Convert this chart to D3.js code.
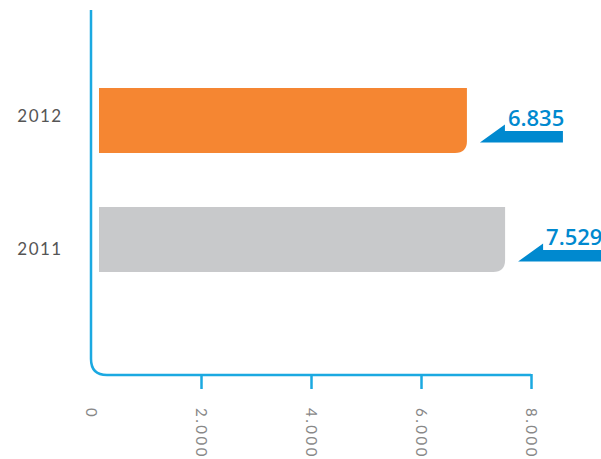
<!DOCTYPE html>
<html>
<head>
<meta charset="utf-8">
<script src="https://cdn.jsdelivr.net/npm/d3@7"></script>
<style>
  body { margin: 0; background: #fff; }
  svg { display: block; }
</style>
</head>
<body>
<div id="chart"></div>
<script>

// data
var years = ["2012", "2011"];
var values = [6835, 7529];
var barColors = ["#F58632", "#C8C9CB"];
var tickValues = [0, 2000, 4000, 6000, 8000];

var width = 601, height = 459;
var axisY = 375, axisTop = 10, corner = 16;

// numbers use a dot as thousands separator
var locale = d3.formatLocale({ decimal: ",", thousands: ".", grouping: [3], currency: ["", ""] });
var fmt = locale.format(",");

var svg = d3.select("#chart")
    .append("svg")
    .attr("width", width)
    .attr("height", height);

var x = d3.scaleLinear().domain([0, 8000]).range([91, 531]);
var y = d3.scaleBand().domain(years).range([61, 299]).paddingInner(0.4538).paddingOuter(0.2269);
// the year labels sit a bit apart from the bar centres in the original
var yLabel = d3.scalePoint().domain(years).range([116, 249]);

var barStart = x(0) + 8;

// bars, only the bottom right corner is rounded
function barPath(x0, x1, y0, h, r) {
    return "M" + x0 + "," + y0 +
        "H" + x1 +
        "V" + (y0 + h - r) +
        "Q" + x1 + "," + (y0 + h) + " " + (x1 - r) + "," + (y0 + h) +
        "H" + x0 + "Z";
}

svg.selectAll("path.bar")
    .data(years)
    .join("path")
    .attr("class", "bar")
    .attr("fill", function (d, i) { return barColors[i] })
    .attr("d", function (d, i) { return barPath(barStart, x(values[i]), y(d), y.bandwidth(), 12) });

// year labels on the left
svg.selectAll("text.year")
    .data(years)
    .join("text")
    .attr("class", "year")
    .attr("x", 40)
    .attr("y", function (d) { return yLabel(d) })
    .attr("dy", "0.35em")
    .attr("text-anchor", "middle")
    .style("font-family", "Lato, sans-serif")
    .style("font-size", "17px")
    .style("font-weight", 400)
    .style("letter-spacing", "1.5px")
    .style("fill", "#555")
    .text(function (d) { return d });

// x axis: ticks + labels from d3, the line itself is drawn as an L with a rounded corner
var xAxis = svg.append("g")
    .attr("transform", "translate(0," + axisY + ")")
    .call(d3.axisBottom(x).tickValues(tickValues).tickSize(14).tickSizeOuter(0).tickFormat(fmt));

xAxis.select(".domain").remove();
xAxis.selectAll(".tick line")
    .attr("y1", -1)
    .attr("stroke", "#1BA9E1")
    .attr("stroke-width", 2.5)
    .style("display", function (d) { return d === 0 ? "none" : null });
xAxis.selectAll(".tick text")
    .attr("y", 0)
    .attr("dy", null)
    .attr("transform", "translate(0,33) rotate(90)")
    .attr("text-anchor", "start")
    .attr("dominant-baseline", "central")
    .style("font-family", "Lato, sans-serif")
    .style("font-size", "15px")
    .style("font-weight", 400)
    .style("letter-spacing", "2.5px")
    .style("fill", "#888");

svg.append("path")
    .attr("fill", "none")
    .attr("stroke", "#1BA9E1")
    .attr("stroke-width", 2.5)
    .attr("d", "M" + x(0) + "," + axisTop +
        "V" + (axisY - corner) +
        "Q" + x(0) + "," + axisY + " " + (x(0) + corner) + "," + axisY +
        "H" + x(8000));

// value callouts: arrow pointing back at the bar end, number on top
var callout = svg.selectAll("g.callout")
    .data(years)
    .join("g")
    .attr("class", "callout")
    .attr("transform", function (d, i) {
        return "translate(" + (x(values[i]) + 13) + "," + (y(d) + y.bandwidth() / 2 + 22) + ")";
    });

callout.append("path")
    .attr("fill", "#0089CF")
    .attr("d", "M0,0 L25,-18 V-11.5 H83 V0 Z");

callout.append("text")
    .attr("x", 28)
    .attr("y", -17)
    .style("font-family", "'Open Sans', sans-serif")
    .style("font-size", "22px")
    .style("font-weight", 600)
    .style("fill", "#0089CF")
    .text(function (d, i) { return fmt(values[i]) });

</script>
</body>
</html>
